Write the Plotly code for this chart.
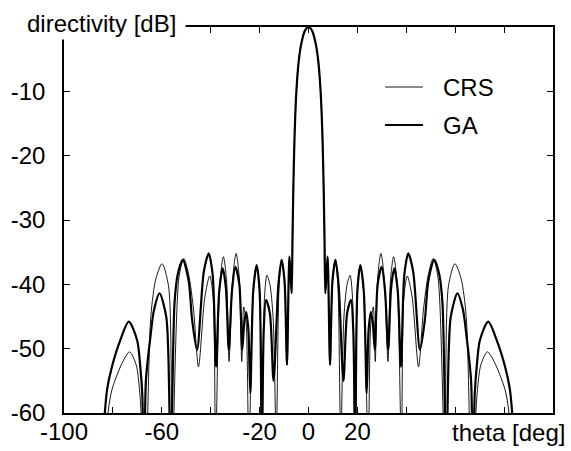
import plotly.graph_objects as go

# ---- data ----
ga_theta = [-90, -84.5, -82.4, -80.4, -77.0, -73.5, -70.1, -68.8, -68.0, -67.2,
            -66.5, -64.6, -63.2, -60.9, -58.2, -57.4, -56.3, -54.8, -53.5, -51.4,
            -49.0, -47.6, -45.6, -42.8, -40.8, -39.2, -37.8, -36.5, -35.1, -33.8,
            -32.6, -31.3, -29.9, -28.3, -27.1, -26.3, -25.5, -24.6, -23.8, -22.6,
            -21.2, -20.0, -19.1, -18.3, -17.4, -15.8, -14.3, -12.3, -11.0, -9.8,
            -8.8, -7.8, -6.9, -6.55, -6.2, -5.7, -5.0, -4.0, -3.0, -1.5,
            0,
            1.5, 3.0, 4.0, 5.0, 5.7, 6.2, 6.55, 6.9, 7.8, 8.8,
            9.8, 11.0, 12.3, 14.3, 15.8, 17.4, 18.3, 19.1, 20.0, 21.2,
            22.6, 23.8, 24.6, 25.5, 26.3, 27.1, 28.3, 29.9, 31.3, 32.6,
            33.8, 35.1, 36.5, 37.8, 39.2, 40.8, 42.8, 45.6, 47.6, 49.0,
            51.4, 53.5, 54.8, 56.3, 57.4, 58.2, 60.9, 63.2, 64.6, 66.5,
            67.2, 68.0, 68.8, 70.1, 73.5, 77.0, 80.4, 82.4, 84.5, 90]
ga_db = [-90, -66, -56.4, -52.8, -48.7, -45.8, -48.7, -52.8, -57, -72,
         -55, -48, -44, -41.4, -45, -50, -68, -43, -38.5, -36.2,
         -39.5, -45.5, -50.2, -38, -35.2, -38.5, -52.8, -41, -37.5, -40.5,
         -50.2, -41, -37.3, -40, -50.2, -46, -44.3, -47, -57, -41,
         -37.0, -41, -66, -47, -42.4, -44.5, -55, -40, -36.2, -39.5,
         -52.5, -35.7, -41.4, -33, -25, -17, -10.3, -5.3, -2.7, -0.6,
         0,
         -0.6, -2.7, -5.3, -10.3, -17, -25, -33, -41.4, -35.7, -52.5,
         -39.5, -36.2, -40, -55, -44.5, -42.4, -47, -66, -41, -37.0,
         -41, -57, -47, -44.3, -46, -50.2, -40, -37.3, -41, -50.2,
         -40.5, -37.5, -41, -52.8, -38.5, -35.2, -38, -50.2, -45.5, -39.5,
         -36.2, -38.5, -43, -68, -50, -45, -41.4, -44, -48, -55,
         -72, -57, -52.8, -48.7, -45.8, -48.7, -52.8, -56.4, -66, -90]

crs_theta = [-90, -84.0, -82.0, -80.4, -76.3, -73.2, -70.5, -69.0, -66.7, -64.5,
             -62.4, -59.9, -57.2, -55.8, -53.0, -51.0, -49.0, -47.0, -45.0, -42.4,
             -40.4, -39.0, -38.0, -36.3, -34.8, -33.5, -32.5, -31.0, -29.6, -28.3,
             -27.3, -26.5, -25.5, -24.4, -22.6, -21.2, -20.0, -19.0, -18.0, -17.0,
             -15.8, -14.5, -13.2, -12.0, -11.0, -9.8, -8.8, -7.8, -6.9, -6.55,
             -6.2, -5.7, -5.0, -4.0, -3.0, -1.5,
             0,
             1.5, 3.0, 4.0, 5.0, 5.7, 6.2, 6.55, 6.9, 7.8, 8.8,
             9.8, 11.0, 12.0, 13.2, 14.5, 15.8, 17.0, 18.0, 19.0, 20.0,
             21.2, 22.6, 24.4, 25.5, 26.5, 27.3, 28.3, 29.6, 31.0, 32.5,
             33.5, 34.8, 36.3, 38.0, 39.0, 40.4, 42.4, 45.0, 47.0, 49.0,
             51.0, 53.0, 55.8, 57.2, 59.9, 62.4, 64.5, 66.7, 69.0, 70.5,
             73.2, 76.3, 80.4, 82.0, 84.0, 90]
crs_db = [-90, -70, -60, -56.4, -52.3, -50.5, -52.5, -56.9, -70, -45,
          -39.1, -36.8, -40.4, -68, -39, -36.0, -38.5, -44, -52.8, -42,
          -38.7, -42, -66, -40, -35.7, -39.5, -52, -39, -35.2, -39,
          -52, -43.5, -46, -66, -41.5, -37.0, -41, -66, -42, -38.6,
          -40, -45, -64, -40, -36.2, -39.5, -52.5, -35.7, -41.4, -33,
          -25, -17, -10.3, -5.3, -2.7, -0.6,
          0,
          -0.6, -2.7, -5.3, -10.3, -17, -25, -33, -41.4, -35.7, -52.5,
          -39.5, -36.2, -40, -64, -45, -40, -38.6, -42, -66, -41,
          -37.0, -41.5, -66, -46, -43.5, -52, -39, -35.2, -39, -52,
          -39.5, -35.7, -40, -66, -42, -38.7, -42, -52.8, -44, -38.5,
          -36.0, -39, -68, -40.4, -36.8, -39.1, -45, -70, -56.9, -52.5,
          -50.5, -52.3, -56.4, -60, -70, -90]

x_tickvals = [-100, -80, -60, -40, -20, 0, 20, 40, 60, 80, 100]
x_ticktext = ["-100", "", "-60", "", "-20", "0", "20", "", "", "", ""]
y_tickvals = [-60, -50, -40, -30, -20, -10, 0]
y_ticktext = ["-60", "-50", "-40", "-30", "-20", "-10", ""]

FONT = "Liberation Sans, Arial, Helvetica, sans-serif"

fig = go.Figure()
fig.add_trace(go.Scatter(x=crs_theta, y=crs_db, mode="lines", name="CRS",
                         line=dict(color="black", width=0.9, shape="spline", smoothing=0.8),
                         showlegend=False))
fig.add_trace(go.Scatter(x=ga_theta, y=ga_db, mode="lines", name="GA",
                         line=dict(color="black", width=2.2, shape="spline", smoothing=0.8),
                         showlegend=False))

L, R, T, B = 64, 18, 27, 38
W, H = 571, 451
pw, ph = W - L - R, H - T - B

def px(x):
    return (x - L) / pw

def py(y):
    return (H - B - y) / ph

# manual legend (gnuplot style)
fig.add_shape(type="line", xref="paper", yref="paper",
              x0=px(385), x1=px(423), y0=py(87), y1=py(87),
              line=dict(color="black", width=0.9))
fig.add_shape(type="line", xref="paper", yref="paper",
              x0=px(385), x1=px(423), y0=py(125), y1=py(125),
              line=dict(color="black", width=2.2))
fig.add_annotation(xref="paper", yref="paper", x=px(441), y=py(87), text="CRS",
                   showarrow=False, xanchor="left", yanchor="middle",
                   font=dict(family=FONT, size=24, color="black"))
fig.add_annotation(xref="paper", yref="paper", x=px(441), y=py(125), text="GA",
                   showarrow=False, xanchor="left", yanchor="middle",
                   font=dict(family=FONT, size=24, color="black"))

# axis titles placed like gnuplot labels
fig.add_annotation(xref="paper", yref="paper", x=px(24), y=py(24),
                   text="directivity [dB]&nbsp;", showarrow=False,
                   xanchor="left", yanchor="middle", bgcolor="white", borderpad=2,
                   font=dict(family=FONT, size=24, color="black"))
fig.add_annotation(xref="paper", yref="paper", x=px(567), y=py(432),
                   text="theta [deg]", showarrow=False,
                   xanchor="right", yanchor="middle",
                   font=dict(family=FONT, size=24, color="black"))

axis_common = dict(showline=True, linecolor="black", linewidth=1.5, mirror="ticks",
                   ticks="inside", ticklen=6, tickwidth=1.2, tickcolor="black",
                   showgrid=False, zeroline=False, automargin=False,
                   tickfont=dict(family=FONT, size=24, color="black"))

fig.update_layout(
    width=W, height=H,
    margin=dict(l=L, r=R, t=T, b=B, pad=0, autoexpand=False),
    paper_bgcolor="white", plot_bgcolor="white",
    xaxis=dict(range=[-100, 100], tickmode="array", tickvals=x_tickvals,
               ticktext=x_ticktext, ticklabelstandoff=-4, **axis_common),
    yaxis=dict(range=[-60, 0], tickmode="array", tickvals=y_tickvals,
               ticktext=y_ticktext, ticklabelstandoff=12, **axis_common),
)

fig.write_html("out.html", config={"displayModeBar": False},
               post_script="document.body.style.margin='0px';document.body.style.padding='0px';")
